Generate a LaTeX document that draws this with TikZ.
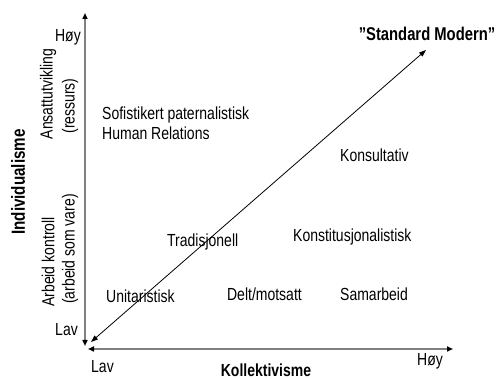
\documentclass[tikz,border=0pt]{standalone}
\usepackage{fontspec}
\setmainfont{Liberation Sans}[FakeStretch=0.8]
\usetikzlibrary{arrows.meta}
\tikzset{
  axisline/.style={gray, line width=1.5pt, {Triangle[length=6pt,width=5pt,color=black]}-{Triangle[length=6pt,width=5pt,color=black]}},
  diagline/.style={black, line width=0.8pt, {Triangle[length=7pt,width=5pt]}-{Triangle[length=7pt,width=5pt]}},
  axistitle/.style={font=\fontsize{17.5}{19}\selectfont\bfseries},
}
\begin{document}
\begin{tikzpicture}[x=1pt,y=-1pt,inner sep=0pt,font=\fontsize{17.5}{19}\selectfont]
\useasboundingbox (0,0) rectangle (499,379);
\coordinate (Ybot) at (85,346);
\coordinate (Ytop) at (85,13);
\coordinate (Xleft) at (88,349);
\coordinate (Xright) at (453,349);
\coordinate (Dlow) at (91,342);
\coordinate (Dhigh) at (426,50);
\draw[axisline] (Ybot) -- (Ytop);
\draw[axisline] (Xleft) -- (Xright);
\draw[diagline] (Dlow) -- (Dhigh);
% axis labels
\node (hoyY) at (81,37) [left] {Høy};
\node (lavY) at (78,330) [left] {Lav};
\node (lavX) at (91,367) [right] {Lav};
\node (hoyX) at (430,361) {Høy};
\node[axistitle] (kollektiv) at (266,370) {Kollektivisme};
\node[axistitle,font=\fontsize{19}{21}\selectfont\bfseries,rotate=90] (individ) at (18,182) {Individualisme};
\node[rotate=90] (ansatt) at (48,94) {Ansattutvikling};
\node[rotate=90] (ressurs) at (70,106) {(ressurs)};
\node[rotate=90] (kontroll) at (48,262) {Arbeid kontroll};
\node[rotate=90] (vare) at (70,249) {(arbeid som vare)};
% styles
\node (sofist) at (102,115) [right] {Sofistikert paternalistisk};
\node (human) at (102,133) [right] {Human Relations};
\node (konsult) at (340,155) [right] {Konsultativ};
\node (tradisj) at (167,242) [right] {Tradisjonell};
\node (konstit) at (293,237) [right] {Konstitusjonalistisk};
\node (unitar) at (106,296) [right] {Unitaristisk};
\node (delt) at (302,294) [left] {Delt/motsatt};
\node (samarb) at (340,294) [right] {Samarbeid};
\node[axistitle,font=\fontsize{18.5}{20}\selectfont\bfseries] (standard) at (427,34) {"Standard Modern"};
\end{tikzpicture}
\end{document}
